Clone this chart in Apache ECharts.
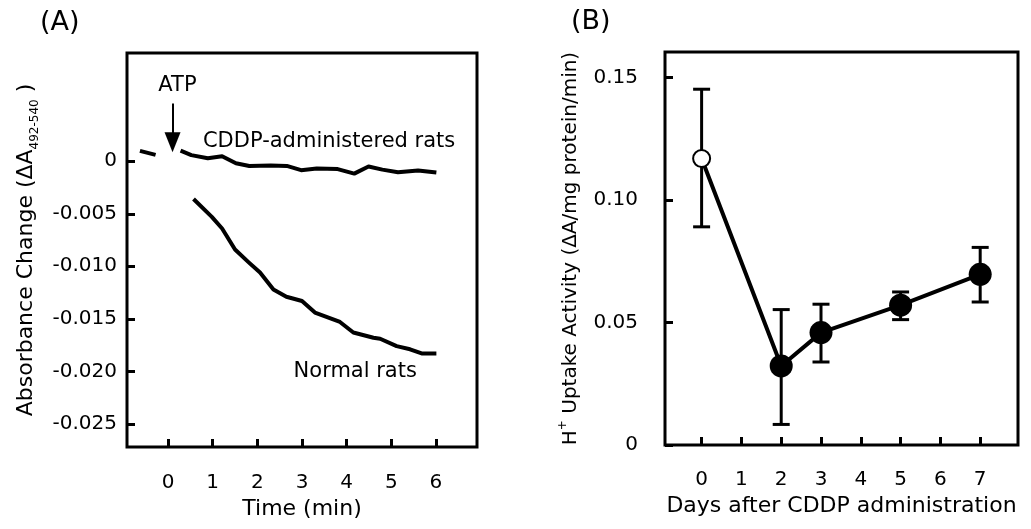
<!DOCTYPE html>
<html><head><meta charset="utf-8">
<script src="https://cdn.jsdelivr.net/npm/echarts@6/dist/echarts.min.js"></script>
<style>html,body{margin:0;padding:0;background:#fff}#c{width:1031px;height:529px}</style>
</head><body><div id="c"></div>
<script>
const FONT = 'DejaVu Sans';
// ---- Panel A data ----
const preAtpTime = [-0.63, -0.28];
const preAtpValue = [0.00098, 0.0006];
const cddpTime = [0.28, 0.52, 0.89, 1.21, 1.52, 1.82, 2.3, 2.66, 2.98, 3.33, 3.8, 4.17, 4.49, 4.8, 5.15, 5.6, 6.01];
const cddpValue = [0.001, 0.00058, 0.00028, 0.00048, -0.0002, -0.00046, -0.0004, -0.00045, -0.00085, -0.0007, -0.00075, -0.00118, -0.0005, -0.0008, -0.00105, -0.00088, -0.00108];
const normalTime = [0.57, 0.98, 1.21, 1.5, 1.8, 2.06, 2.36, 2.65, 3.0, 3.29, 3.85, 4.15, 4.6, 4.75, 5.12, 5.42, 5.68, 6.01];
const normalValue = [-0.0036, -0.0053, -0.0064, -0.0084, -0.0096, -0.0106, -0.0122, -0.0129, -0.0133, -0.0144, -0.0153, -0.0163, -0.0168, -0.0169, -0.0176, -0.0179, -0.0183, -0.0183];
const timeTicks = [0, 1, 2, 3, 4, 5, 6];
const absTicks = [-0.025, -0.02, -0.015, -0.01, -0.005, 0];
// ---- Panel B data ----
const days = [0, 2, 3, 5, 7];
const uptake = [0.117, 0.0323, 0.0459, 0.0571, 0.0697];
const uptakeHigh = [0.1453, 0.0553, 0.0575, 0.0625, 0.0807];
const uptakeLow = [0.0891, 0.0084, 0.0339, 0.0512, 0.0584];
const dayTicks = [0, 1, 2, 3, 4, 5, 6, 7];
const uptakeTicks = [0, 0.05, 0.10, 0.15];

const zip = (a, b) => a.map((v, i) => [v, b[i]]);
const tickStyle = {show: true, inside: true, length: 8, lineStyle: {color: '#000', width: 3}};
const lbl = {color: '#000', fontFamily: FONT, fontSize: 20};
const nameStyle = {color: '#000', fontFamily: FONT, fontSize: 22};
const noLine = {show: false, onZero: false};

const chart = echarts.init(document.getElementById('c'), null, {renderer: 'canvas'});
chart.setOption({
  animation: false,
  backgroundColor: '#fff',
  title: [
    {text: '(A)', left: 35, top: 4, textStyle: {fontFamily: FONT, fontSize: 27, fontWeight: 'normal', color: '#000'}},
    {text: '(B)', left: 566, top: 3, textStyle: {fontFamily: FONT, fontSize: 27, fontWeight: 'normal', color: '#000'}}
  ],
  grid: [
    {left: 127, top: 53, width: 350, height: 394, show: true, borderColor: '#000', borderWidth: 3, backgroundColor: 'transparent'},
    {left: 665, top: 52, width: 353, height: 393, show: true, borderColor: '#000', borderWidth: 3, backgroundColor: 'transparent'}
  ],
  xAxis: [
    {type: 'value', gridIndex: 0, min: -0.92, max: 6.92,
     axisLine: noLine, splitLine: {show: false},
     axisTick: Object.assign({customValues: timeTicks}, tickStyle),
     axisLabel: Object.assign({customValues: timeTicks, margin: 26}, lbl),
     name: 'Time (min)', nameLocation: 'middle', nameGap: 47, nameTextStyle: nameStyle},
    {type: 'value', gridIndex: 1, min: -0.92, max: 7.95,
     axisLine: noLine, splitLine: {show: false},
     axisTick: Object.assign({customValues: dayTicks}, tickStyle),
     axisLabel: Object.assign({customValues: dayTicks, margin: 25}, lbl),
     name: 'Days after CDDP administration', nameLocation: 'middle', nameGap: 47, nameTextStyle: nameStyle}
  ],
  yAxis: [
    {type: 'value', gridIndex: 0, min: -0.0272, max: 0.0103,
     axisLine: noLine, splitLine: {show: false},
     axisTick: Object.assign({customValues: absTicks}, tickStyle),
     axisLabel: Object.assign({customValues: absTicks, margin: 10,
       formatter: v => Math.abs(v) < 1e-9 ? '0' : v.toFixed(3)}, lbl),
     name: '{m|Absorbance Change (ΔA}{s|492-540}{m| )}', nameLocation: 'middle', nameRotate: 90, nameGap: 86,
     nameTextStyle: {color: '#000', fontFamily: FONT, fontSize: 22,
       rich: {m: {fontFamily: FONT, fontSize: 22, color: '#000', lineHeight: 30, verticalAlign: 'middle'},
              s: {fontFamily: FONT, fontSize: 12, color: '#000', lineHeight: 12, verticalAlign: 'bottom'}}}},
    {type: 'value', gridIndex: 1, min: 0, max: 0.1605,
     axisLine: noLine, splitLine: {show: false},
     axisTick: Object.assign({customValues: uptakeTicks}, tickStyle),
     axisLabel: Object.assign({customValues: uptakeTicks, margin: 27,
       formatter: v => Math.abs(v) < 1e-9 ? '0' : v.toFixed(2)}, lbl),
     name: '{m|H}{p|+}{m| Uptake Activity (ΔA/mg protein/min)}', nameLocation: 'middle', nameRotate: 90, nameGap: 80,
     nameTextStyle: {color: '#000', fontFamily: FONT, fontSize: 20,
       rich: {m: {fontFamily: FONT, fontSize: 20, color: '#000', lineHeight: 28, verticalAlign: 'middle'},
              p: {fontFamily: FONT, fontSize: 12, color: '#000', lineHeight: 12, verticalAlign: 'top'}}}}
  ],
  series: [
    {type: 'line', xAxisIndex: 0, yAxisIndex: 0, data: zip(preAtpTime, preAtpValue), symbol: 'none',
     lineStyle: {color: '#000', width: 4}},
    {type: 'line', xAxisIndex: 0, yAxisIndex: 0, data: zip(cddpTime, cddpValue), symbol: 'none',
     lineStyle: {color: '#000', width: 4, join: 'round'},
     markLine: {silent: true, symbol: ['none', 'none'],
       label: {show: false}, lineStyle: {color: '#000', width: 2, type: 'solid'},
       data: [[{coord: [0.1, 0.0055]}, {coord: [0.1, 0.0025]}]]},
     markPoint: {silent: true, symbol: 'circle', symbolSize: 1, itemStyle: {color: 'rgba(0,0,0,0)'},
       data: [
         {coord: [0.1, 0.0018], symbol: 'triangle', symbolSize: [16, 20], symbolRotate: 180,
          itemStyle: {color: '#000'}, label: {show: false}},
         {coord: [0.21, 0.0072], label: {show: true, position: 'inside', formatter: 'ATP', color: '#000', fontFamily: FONT, fontSize: 21}},
         {coord: [0.77, 0.0019], label: {show: true, position: 'right', distance: 0, formatter: 'CDDP-administered rats', color: '#000', fontFamily: FONT, fontSize: 21}},
         {coord: [2.8, -0.02], label: {show: true, position: 'right', distance: 0, formatter: 'Normal rats', color: '#000', fontFamily: FONT, fontSize: 21}}
       ]}},
    {type: 'line', xAxisIndex: 0, yAxisIndex: 0, data: zip(normalTime, normalValue), symbol: 'none',
     lineStyle: {color: '#000', width: 4, join: 'round'}},
    {type: 'custom', xAxisIndex: 1, yAxisIndex: 1, z: 2,
     data: days.map((d, i) => [d, uptakeLow[i], uptakeHigh[i]]),
     encode: {x: 0, y: [1, 2]},
     renderItem: (params, api) => {
       const x = api.value(0);
       const pHi = api.coord([x, api.value(2)]);
       const pLo = api.coord([x, api.value(1)]);
       const w = 8.5;
       const style = {stroke: '#000', lineWidth: 3, fill: null};
       return {type: 'group', children: [
         {type: 'line', shape: {x1: pHi[0], y1: pHi[1], x2: pLo[0], y2: pLo[1]}, style},
         {type: 'line', shape: {x1: pHi[0] - w, y1: pHi[1], x2: pHi[0] + w, y2: pHi[1]}, style},
         {type: 'line', shape: {x1: pLo[0] - w, y1: pLo[1], x2: pLo[0] + w, y2: pLo[1]}, style}
       ]};
     }},
    {type: 'line', xAxisIndex: 1, yAxisIndex: 1, z: 3,
     data: days.map((d, i) => i === 0
       ? {value: [d, uptake[i]], symbolSize: 17, itemStyle: {color: '#fff', borderColor: '#000', borderWidth: 2}}
       : {value: [d, uptake[i]]}),
     symbol: 'circle', symbolSize: 23, itemStyle: {color: '#000', borderColor: '#000', borderWidth: 0},
     lineStyle: {color: '#000', width: 4}}
  ]
});
</script>
</body></html>
